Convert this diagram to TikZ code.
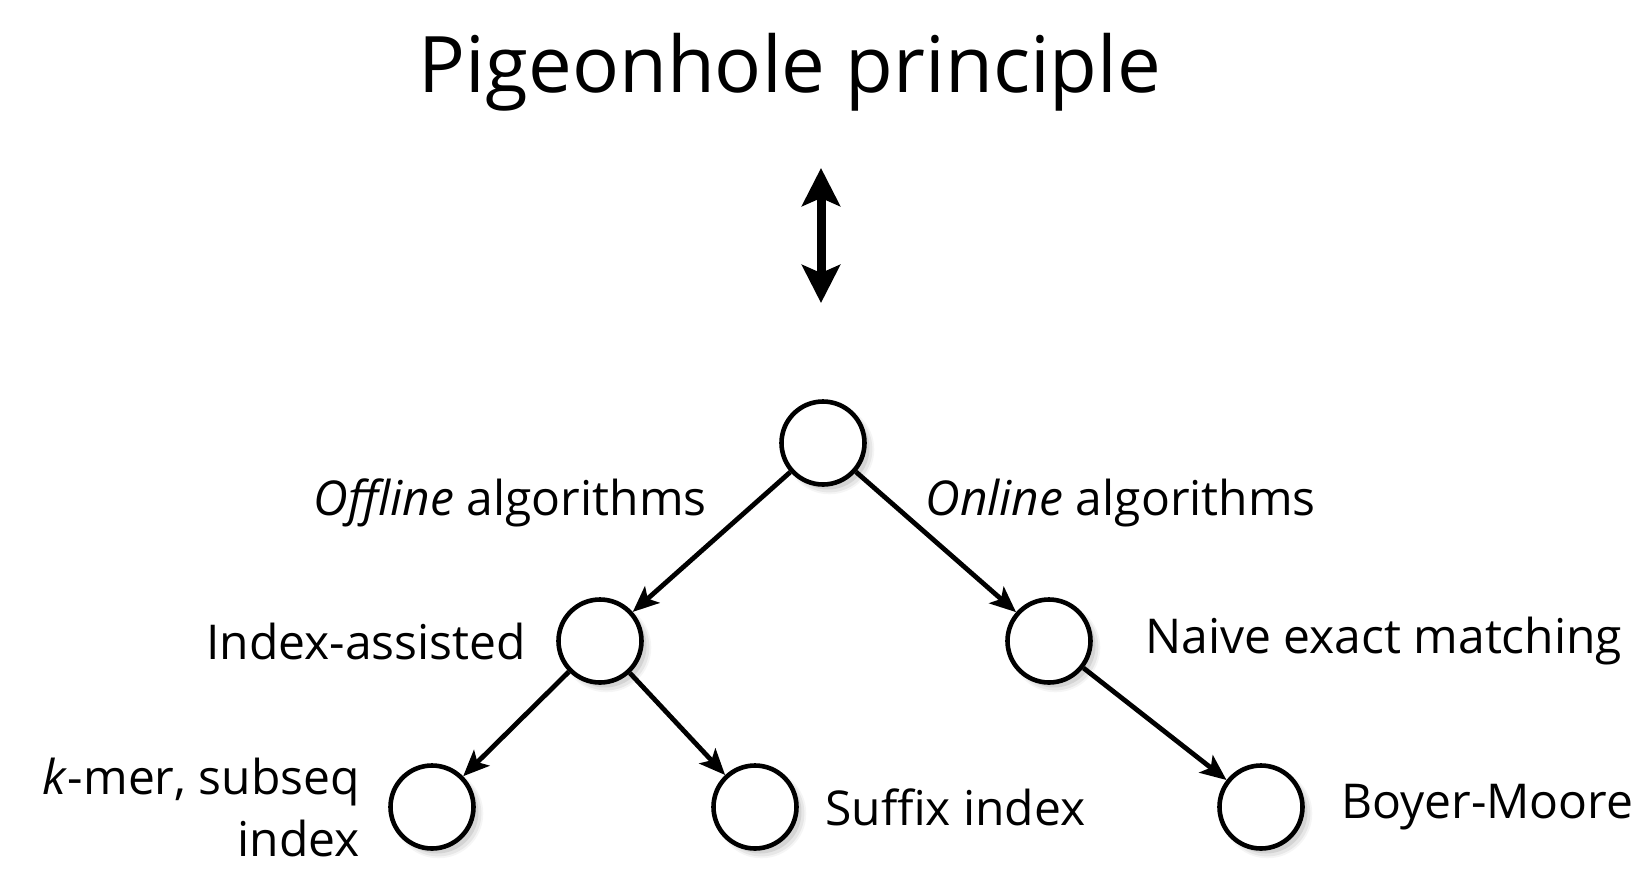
\documentclass[tikz,border=0pt]{standalone}
\usepackage{fontspec}
\setmainfont{Open Sans}
\usetikzlibrary{arrows.meta,positioning,shadows}
\tikzstyle{vertex}=[draw,fill=white,circle,line width=2.3pt,minimum size=41.5pt,inner sep=0pt,
  drop shadow={shadow xshift=3pt,shadow yshift=-3pt,shadow scale=1.08,opacity=.08},
  drop shadow={shadow xshift=3pt,shadow yshift=-3pt,shadow scale=1.04,opacity=.12},
  drop shadow={shadow xshift=2.5pt,shadow yshift=-2.5pt,opacity=.18}]
\tikzstyle{lbl}=[font=\fontsize{24}{31}\selectfont,inner sep=0pt]
\tikzstyle{link}=[line width=2.4pt,-{Stealth[length=13pt,width=11pt,inset=3pt]}]

\begin{document}
\begin{tikzpicture}[x=0.5pt,y=-0.5pt]
\useasboundingbox (0,0) rectangle (1640,890);
\node [lbl,font=\fontsize{39}{46}\selectfont,anchor=base] (title) at (790,92) {Pigeonhole principle};
\coordinate (up) at (821,168);
\coordinate (down) at (821,303);
\draw [line width=4.5pt,{Stealth[length=19pt,width=19pt,inset=4pt]}-{Stealth[length=19pt,width=19pt,inset=4pt]}] (up) -- (down);

% tree
\node [vertex] (root) at (823,443) {};
\node [vertex] (idx) at (600,641) {};
\node [vertex] (naive) at (1049,641) {};
\node [vertex] (kmer) at (432,807) {};
\node [vertex] (suffix) at (755,807) {};
\node [vertex] (boyer) at (1261,807) {};

\draw [link] (root) -- (idx);
\draw [link] (root) -- (naive);
\draw [link] (idx) -- (kmer);
\draw [link] (idx) -- (suffix);
\draw [link] (naive) -- (boyer);

% labels
\node [lbl,anchor=base east] (offline) at (707,515) {\textit{Offline} algorithms};
\node [lbl,anchor=base west] (online) at (925,515) {\textit{Online} algorithms};
\node [lbl,left=15pt of idx] (idxlbl) {Index-assisted};
\node [lbl,right=26pt of naive] (naivelbl) {Naive exact matching};
\node [lbl,left=14pt of kmer,align=right] (kmerlbl) {\textit{k}-mer, subseq\\index};
\node [lbl,right=13pt of suffix] (suffixlbl) {Suffix index};
\node [lbl,right=18pt of boyer] (boyerlbl) {Boyer-Moore};
\end{tikzpicture}
\end{document}
